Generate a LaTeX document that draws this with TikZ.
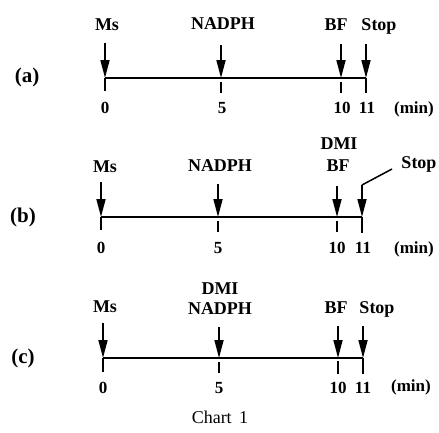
\documentclass[tikz,border=0pt]{standalone}
\usepackage{fontspec}
\setmainfont{Liberation Serif}
\usetikzlibrary{arrows.meta}
\begin{document}
\begin{tikzpicture}[x=1pt,y=-1pt,
  lbl/.style={font=\fontsize{18}{18}\selectfont\bfseries, inner sep=0pt, anchor=base},
  num/.style={font=\fontsize{17}{17}\selectfont\bfseries, inner sep=0pt, anchor=base},
  tag/.style={font=\fontsize{21}{21}\selectfont\bfseries, inner sep=0pt, anchor=base},
  caption/.style={font=\fontsize{18}{18}\selectfont, inner sep=0pt, anchor=base},
  axis/.style={line width=1.6pt},
  thinaxis/.style={line width=1.1pt},
  tick/.style={line width=1.9pt},
  addarrow/.style={line width=1.7pt, -{Triangle[length=18pt,width=9pt]}},
  leader/.style={line width=1.5pt}]
\useasboundingbox (0,0) rectangle (439,432);

% ---------- (a) ----------
\coordinate (a0)  at (105,78);
\coordinate (a5)  at (221,78);
\coordinate (a10) at (341,78);
\coordinate (a11) at (366,78);
\draw[axis] (a0) -- (a11);
\draw[tick] (a0) -- ++(0,13);
\draw[tick] (a5) ++(0,4) -- ++(0,11);
\draw[tick] (a10) ++(0,4) -- ++(0,11);
\draw[tick] (a11) -- ++(0,15);
\coordinate (a0s)  at (105,43);
\coordinate (a5s)  at (221,45);
\coordinate (a10s) at (341,44);
\coordinate (a11s) at (366,44);
\draw[addarrow] (a0s) -- (a0);
\draw[addarrow] (a5s) -- (a5);
\draw[addarrow] (a10s) -- (a10);
\draw[addarrow] (a11s) -- (a11);
\node[tag] (aTag)  at (27,82)  {(a)};
\node[lbl] (aMs)   at (107,30) {Ms};
\node[lbl] (aNad)  at (223,29) {NADPH};
\node[lbl] (aBF)   at (336,30) {BF};
\node[lbl] (aStop) at (379,30) {Stop};
\node[num] (aN0)   at (105,113) {0};
\node[num] (aN5)   at (222,113) {5};
\node[num] (aN10)  at (342,113) {10};
\node[num] (aN11)  at (367,113) {11};
\node[num] (aMin)  at (414,113) {(min)};

% ---------- (b) ----------
\coordinate (b0)  at (101,217);
\coordinate (b5)  at (218,217);
\coordinate (b10) at (337,217);
\coordinate (b11) at (362,217);
\draw[thinaxis] (b0) -- (b11);
\draw[tick] (b0) -- ++(0,13);
\draw[tick] (b5) ++(0,4) -- ++(0,11);
\draw[tick] (b10) ++(0,4) -- ++(0,11);
\draw[tick] (b11) -- ++(0,16);
\coordinate (b0s)  at (101,182);
\coordinate (b5s)  at (218,184);
\coordinate (b10s) at (337,186);
\coordinate (bLs)  at (392,169);
\coordinate (bLb)  at (362,185);
\draw[addarrow] (b0s) -- (b0);
\draw[addarrow] (b5s) -- (b5);
\draw[addarrow] (b10s) -- (b10);
\draw[leader] (bLs) -- (bLb);
\draw[addarrow] (bLb) -- (b11);
\node[tag] (bTag)  at (23,222)  {(b)};
\node[lbl] (bMs)   at (105,172) {Ms};
\node[lbl] (bNad)  at (220,171) {NADPH};
\node[lbl] (bDMI)  at (339,149) {DMI};
\node[lbl] (bBF)   at (338,171) {BF};
\node[lbl] (bStop) at (419,168) {Stop};
\node[num] (bN0)   at (101,253) {0};
\node[num] (bN5)   at (218,253) {5};
\node[num] (bN10)  at (337,253) {10};
\node[num] (bN11)  at (363,253) {11};
\node[num] (bMin)  at (414,253) {(min)};

% ---------- (c) ----------
\coordinate (c0)  at (103,358);
\coordinate (c5)  at (219,358);
\coordinate (c10) at (338,358);
\coordinate (c11) at (363,358);
\draw[axis] (c0) -- (c11);
\draw[tick] (c0) -- ++(0,14);
\draw[tick] (c5) ++(0,4) -- ++(0,11);
\draw[tick] (c10) ++(0,3) -- ++(0,13);
\draw[tick] (c11) -- ++(0,16);
\coordinate (c0s)  at (103,323);
\coordinate (c5s)  at (219,327);
\coordinate (c10s) at (338,326);
\coordinate (c11s) at (363,326);
\draw[addarrow] (c0s) -- (c0);
\draw[addarrow] (c5s) -- (c5);
\draw[addarrow] (c10s) -- (c10);
\draw[addarrow] (c11s) -- (c11);
\node[tag] (cTag)  at (23,363)  {(c)};
\node[lbl] (cMs)   at (105,312) {Ms};
\node[lbl] (cDMI)  at (220,294) {DMI};
\node[lbl] (cNad)  at (220,314) {NADPH};
\node[lbl] (cBF)   at (336,313) {BF};
\node[lbl] (cStop) at (377,313) {Stop};
\node[num] (cN0)   at (103,393) {0};
\node[num] (cN5)   at (219,393) {5};
\node[num] (cN10)  at (338,393) {10};
\node[num] (cN11)  at (363,393) {11};
\node[num] (cMin)  at (411,391) {(min)};

\node[caption] (chart) at (220,423) {Chart\, 1};
\end{tikzpicture}
\end{document}
